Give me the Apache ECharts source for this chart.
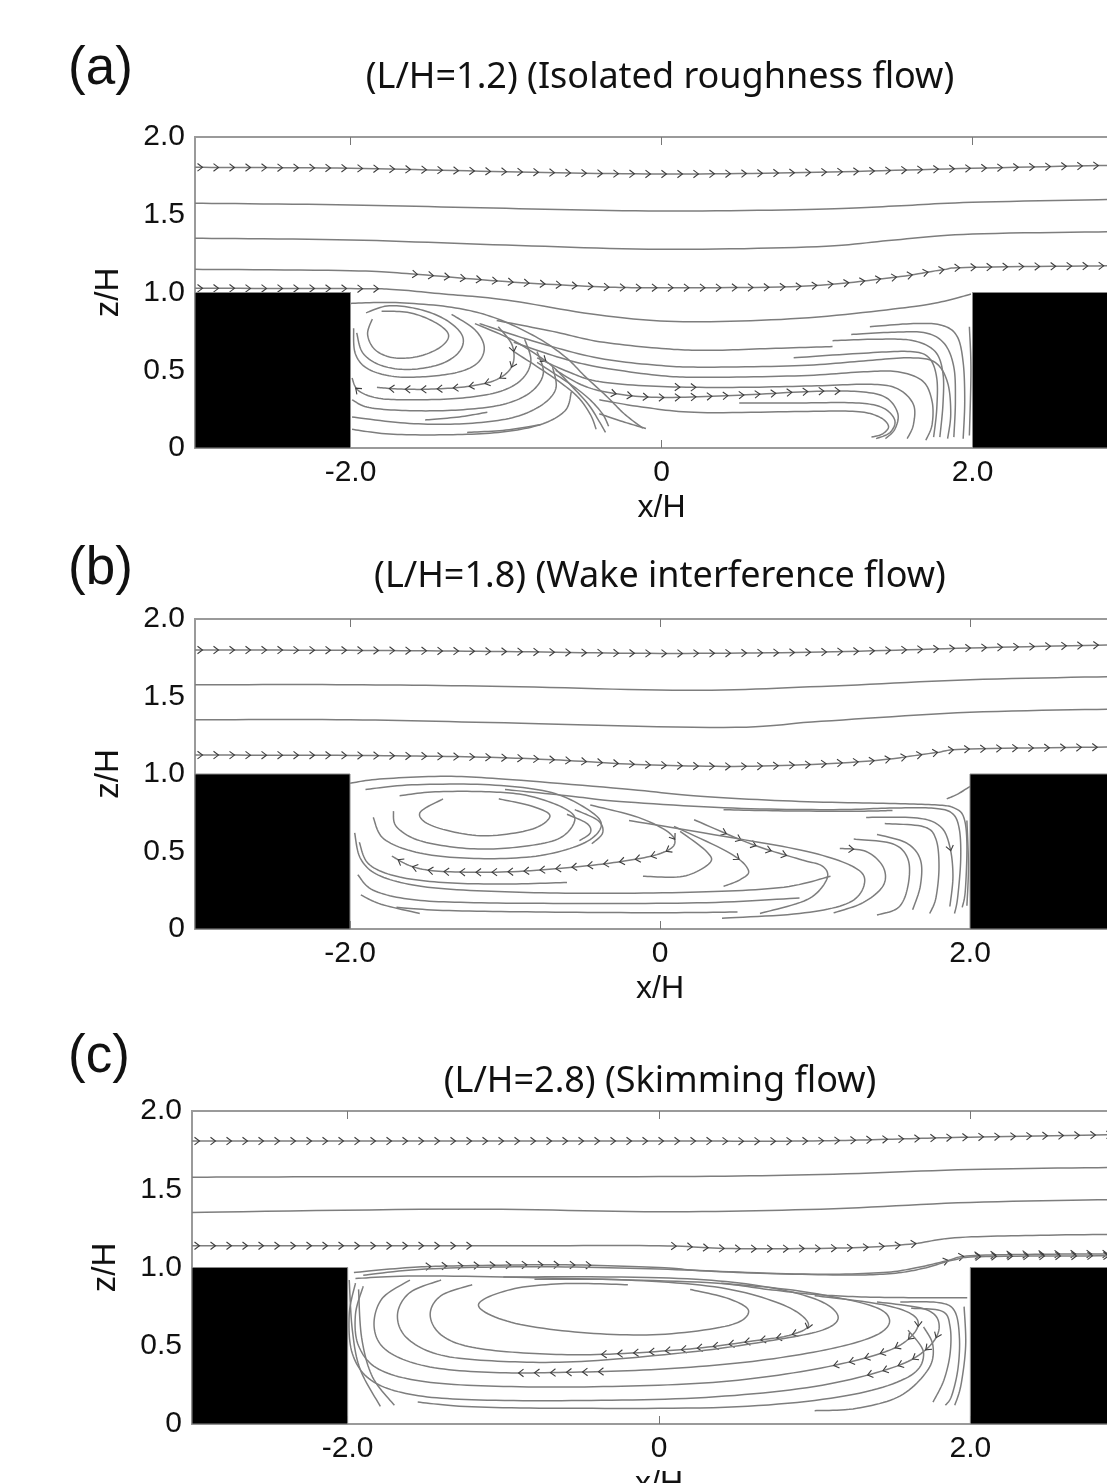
<!DOCTYPE html>
<html><head><meta charset="utf-8">
<script src="https://cdn.jsdelivr.net/npm/echarts@6/dist/echarts.min.js"></script>
<style>html,body{margin:0;padding:0;background:#fff}#c{width:1107px;height:1483px}</style>
</head><body><div id="c"></div>
<script>
// ---------------- data ----------------
const panelLabels = ['(a)', '(b)', '(c)'];
const panelTitles = ['(L/H=1.2) (Isolated roughness flow)', '(L/H=1.8) (Wake interference flow)', '(L/H=2.8) (Skimming flow)'];
const xTicks = [-2, 0, 2];
const yTicks = [0, 0.5, 1.0, 1.5, 2.0];
const xRange = [-3, 3];
const yRange = [0, 2];
const blocks = [[-3, -2, 1.0], [2, 3, 1.0]]; // [x0, x1, height]

// streamlines, panel (a)
const linesA = [
  [[-3,1.805],[-2,1.799],[-1,1.777],[0,1.762],[1,1.773],[2,1.799],[3,1.82]],
  [[-3,1.574],[-2,1.563],[-1,1.541],[0,1.524],[1,1.535],[1.5,1.556],[2,1.58],[3,1.6]],
  [[-3,1.349],[-2,1.338],[-1,1.305],[0,1.278],[1,1.295],[1.5,1.338],[2,1.376],[3,1.392]],
  [[-3,1.149],[-2,1.14],[-1.6,1.119],[-1,1.07],[-0.4,1.037],[0,1.031],[0.9,1.04],[1.5,1.098],[1.8,1.145],[2,1.162],[3,1.173]],
  [[-3,1.027],[-2,1.025],[-1.73,1.02],[-1.4,0.99],[-1,0.952],[-0.4,0.855],[0.14,0.812],[0.89,0.834],[1.53,0.898],[1.8,0.94],[1.99,0.99]],
  [[-1.80,0.88],[-1.62,0.87],[-1.46,0.81],[-1.37,0.73],[-1.42,0.65],[-1.56,0.59],[-1.72,0.58],[-1.84,0.63],[-1.89,0.73],[-1.86,0.83]],
  [[-1.90,0.87],[-1.75,0.915],[-1.55,0.89],[-1.38,0.82],[-1.28,0.72],[-1.30,0.62],[-1.42,0.54],[-1.62,0.505],[-1.80,0.53],[-1.92,0.61],[-1.96,0.74]],
  [[-1.35,0.86],[-1.20,0.76],[-1.14,0.65],[-1.18,0.55],[-1.30,0.49],[-1.50,0.46],[-1.72,0.46],[-1.89,0.51],[-1.97,0.61],[-1.98,0.77]],
  [[-1.05,0.78],[-0.96,0.66],[-0.96,0.53],[-1.06,0.44],[-1.25,0.395],[-1.50,0.378],[-1.70,0.38],[-1.83,0.39]],
  [[-0.88,0.70],[-0.84,0.56],[-0.90,0.44],[-1.05,0.36],[-1.30,0.32],[-1.60,0.31],[-1.82,0.32],[-1.95,0.37],[-1.99,0.45]],
  [[-0.80,0.62],[-0.76,0.48],[-0.84,0.36],[-1.02,0.28],[-1.30,0.245],[-1.62,0.24],[-1.88,0.26],[-1.99,0.31]],
  [[-0.70,0.52],[-0.68,0.38],[-0.78,0.27],[-0.98,0.19],[-1.30,0.155],[-1.65,0.16],[-1.99,0.20]],
  [[-0.58,0.36],[-0.62,0.24],[-0.78,0.15],[-1.05,0.10],[-1.4,0.085],[-1.75,0.09],[-1.99,0.12]],
  [[-1.52,0.18],[-1.3,0.2],[-1.12,0.23]],
  [[-1.25,0.10],[-1.0,0.115],[-0.78,0.15]],
  [[-2.0,0.93],[-1.71,0.935],[-1.35,0.905],[-1.08,0.84],[-0.81,0.716],[-0.62,0.587],[-0.49,0.459],[-0.35,0.33],[-0.24,0.22],[-0.12,0.127]],
  [[-1.2,0.80],[-0.95,0.69],[-0.72,0.54],[-0.58,0.40],[-0.47,0.28],[-0.40,0.17],[-0.36,0.10]],
  [[-0.95,0.62],[-0.72,0.47],[-0.55,0.34],[-0.46,0.22],[-0.42,0.12]],
  [[-0.80,0.55],[-0.6,0.42],[-0.47,0.32],[-0.38,0.22],[-0.34,0.14]],
  [[-1.06,0.82],[-0.7,0.75],[-0.4,0.684],[0,0.64],[0.3,0.628],[0.7,0.64],[1.1,0.652]],
  [[-1.17,0.80],[-0.8,0.68],[-0.4,0.577],[0,0.53],[0.3,0.52],[0.9,0.53],[1.3,0.56],[1.6,0.58],[1.76,0.55],[1.84,0.42],[1.86,0.22],[1.84,0.06]],
  [[-0.95,0.68],[-0.65,0.58],[-0.4,0.52],[0,0.465],[0.3,0.455],[0.9,0.465],[1.3,0.49],[1.52,0.49],[1.68,0.43],[1.74,0.3],[1.74,0.15],[1.7,0.05]],
  [[-0.80,0.58],[-0.6,0.49],[-0.4,0.427],[0,0.395],[0.5,0.39],[1.0,0.40],[1.35,0.41],[1.52,0.38],[1.62,0.28],[1.62,0.15],[1.58,0.06]],
  [[-0.68,0.50],[-0.5,0.40],[-0.3,0.35],[0,0.325],[0.5,0.34],[1.0,0.365],[1.3,0.36],[1.45,0.32],[1.52,0.22],[1.50,0.12],[1.44,0.06]],
  [[-0.4,0.31],[-0.1,0.26],[0.25,0.228],[0.9,0.235],[1.25,0.235],[1.4,0.2],[1.46,0.14],[1.42,0.09],[1.35,0.07]],
  [[-0.4,0.22],[-0.25,0.17],[-0.1,0.125]],
  [[0.5,0.29],[0.9,0.29],[1.25,0.29],[1.42,0.26],[1.5,0.18],[1.47,0.1],[1.38,0.06]],
  [[1.34,0.78],[1.62,0.80],[1.80,0.79],[1.90,0.72],[1.94,0.55],[1.95,0.3],[1.94,0.06]],
  [[1.22,0.73],[1.5,0.745],[1.70,0.74],[1.82,0.67],[1.88,0.52],[1.89,0.3],[1.88,0.07]],
  [[1.1,0.69],[1.4,0.70],[1.62,0.69],[1.76,0.62],[1.81,0.48],[1.81,0.28],[1.79,0.07]],
  [[0.85,0.58],[1.3,0.61],[1.6,0.62],[1.72,0.58],[1.77,0.45],[1.77,0.25],[1.75,0.07]],
  [[1.98,0.78],[1.99,0.5],[1.98,0.08]]
];
// arrow marks: [line index, from fraction, to fraction] along the line
const arrowsA = [[0,0,1],[3,0.23,1],[4,0,0.25],[8,0.12,1],[22,0.33,0.4],[23,0.15,0.78],[9,0.92,0.97],[16,0.42,0.5]];

// streamlines, panel (b)
const linesB = [
  [[-3,1.80],[-2,1.798],[-1,1.79],[0,1.778],[1.04,1.787],[2,1.813],[3,1.835]],
  [[-3,1.576],[-2,1.576],[-1,1.565],[0.17,1.54],[1.04,1.565],[2,1.608],[3,1.63]],
  [[-3,1.35],[-2,1.35],[-1,1.33],[0.41,1.30],[1.04,1.34],[2,1.398],[3,1.42]],
  [[-3,1.122],[-2,1.12],[-1.2,1.11],[-0.69,1.092],[-0.1,1.06],[0.6,1.05],[1.33,1.082],[1.76,1.135],[2,1.161],[3,1.175]],
  [[-2.0,0.94],[-1.81,0.967],[-1.38,0.985],[-0.95,0.963],[-0.19,0.90],[0.26,0.856],[0.9,0.823],[1.48,0.81],[1.79,0.80],[1.9,0.78],[1.96,0.72],[1.98,0.55],[1.97,0.25],[1.95,0.14]],
  [[-1.0,0.90],[-0.6,0.86],[-0.26,0.823],[0.47,0.78],[1.12,0.77],[1.48,0.78],[1.75,0.78],[1.88,0.75],[1.93,0.65],[1.94,0.45],[1.92,0.2],[1.9,0.1]],
  [[0.41,0.77],[0.8,0.762],[1.29,0.76],[1.5,0.765]],
  [[1.85,0.84],[1.92,0.87],[2.0,0.92]],
  [[-1.04,0.84],[-0.82,0.79],[-0.71,0.727],[-0.84,0.64],[-1.16,0.602],[-1.46,0.662],[-1.55,0.748],[-1.40,0.839]],
  [[-1.68,0.86],[-1.45,0.885],[-1.1,0.885],[-0.85,0.86],[-0.62,0.78],[-0.55,0.70],[-0.66,0.58],[-0.95,0.525],[-1.25,0.52],[-1.55,0.57],[-1.70,0.66],[-1.72,0.76]],
  [[-1.9,0.90],[-1.6,0.93],[-1.1,0.93],[-0.7,0.88],[-0.45,0.76],[-0.38,0.66],[-0.5,0.55],[-0.8,0.47],[-1.2,0.455],[-1.55,0.49],[-1.78,0.58],[-1.85,0.72]],
  [[-0.45,0.80],[-0.14,0.72],[0.06,0.62],[0.09,0.54],[-0.02,0.48],[-0.24,0.437],[-0.5,0.405],[-0.95,0.37],[-1.38,0.37],[-1.59,0.40],[-1.73,0.47]],
  [[-0.6,0.74],[-0.47,0.68],[-0.45,0.62],[-0.52,0.57]],
  [[-0.55,0.77],[-0.40,0.70],[-0.37,0.62],[-0.44,0.55]],
  [[1.1,0.34],[0.8,0.27],[0.3,0.24],[-0.4,0.23],[-1.0,0.24],[-1.5,0.27],[-1.8,0.34],[-1.93,0.45],[-1.97,0.62]],
  [[0.9,0.2],[0.3,0.17],[-0.5,0.165],[-1.2,0.17],[-1.6,0.19],[-1.85,0.25],[-1.95,0.35]],
  [[0.5,0.11],[0,0.105],[-0.8,0.11],[-1.4,0.12],[-1.7,0.14]],
  [[-1.55,0.10],[-1.8,0.16],[-1.93,0.22]],
  [[-0.6,0.30],[-1.0,0.29],[-1.4,0.30],[-1.7,0.34],[-1.88,0.42],[-1.94,0.56]],
  [[0.22,0.705],[0.6,0.544],[0.9,0.45],[1.05,0.404],[1.075,0.318],[0.95,0.19],[0.645,0.10]],
  [[0.09,0.662],[0.45,0.49],[0.57,0.38],[0.52,0.32],[0.41,0.275]],
  [[0.13,0.63],[0.30,0.50],[0.32,0.425],[0.15,0.34],[-0.11,0.34]],
  [[1.16,0.52],[1.33,0.50],[1.44,0.40],[1.44,0.28],[1.31,0.17],[1.12,0.104]],
  [[-0.2,0.70],[0.4,0.60],[0.95,0.50],[1.25,0.40],[1.32,0.30],[1.22,0.17],[0.9,0.10],[0.4,0.07]],
  [[1.33,0.72],[1.66,0.716],[1.81,0.66],[1.87,0.53],[1.89,0.34],[1.87,0.145]],
  [[1.40,0.61],[1.59,0.555],[1.68,0.447],[1.68,0.28],[1.63,0.124]],
  [[1.45,0.68],[1.70,0.66],[1.78,0.58],[1.80,0.40],[1.78,0.2],[1.74,0.10]],
  [[1.25,0.58],[1.5,0.55],[1.6,0.45],[1.6,0.28],[1.54,0.14],[1.4,0.09]],
  [[1.98,0.70],[1.99,0.4],[1.98,0.15]]
];
const arrowsB = [[0,0,1],[3,0,1],[11,0.22,1],[19,0.12,0.45],[20,0.55,0.7],[22,0.05,0.2],[24,0.6,0.66],[25,0.55,0.62],[26,0.55,0.6]];

// streamlines, panel (c)
const linesC = [
  [[-3,1.808],[-2,1.808],[0,1.808],[0.93,1.808],[1.5,1.82],[2,1.833],[3,1.85]],
  [[-3,1.577],[-2,1.58],[0,1.581],[1.04,1.594],[2,1.626],[3,1.64]],
  [[-3,1.352],[-1.25,1.373],[0,1.356],[1.04,1.373],[2,1.416],[3,1.435]],
  [[-3,1.139],[-1,1.139],[0,1.139],[0.47,1.121],[1.2,1.125],[1.61,1.149],[1.9,1.19],[2.4,1.205],[3,1.213]],
  [[-1.96,0.968],[-1.6,1.0],[-1.28,1.011],[-0.6,1.017],[0,1.0],[0.3,0.979],[0.98,0.957],[1.44,0.968],[1.66,1.0],[1.85,1.043],[2.0,1.075],[2.5,1.085],[3,1.087]],
  [[-1.9,0.95],[-1.5,0.99],[-0.8,1.005],[0,0.99],[0.6,0.965],[1.2,0.952],[1.5,0.962],[1.7,0.995],[1.9,1.05],[2.1,1.07],[3,1.075]],
  [[-1.95,0.93],[-1.51,0.946],[-0.6,0.93],[0.304,0.904],[0.7,0.86],[0.983,0.829],[1.3,0.812],[1.66,0.807],[1.98,0.807]],
  [[0.2,0.86],[0.45,0.80],[0.576,0.72],[0.45,0.63],[0.0,0.572],[-0.5,0.585],[-0.95,0.65],[-1.16,0.76],[-0.95,0.86],[-0.6,0.897],[-0.2,0.89]],
  [[-0.8,0.925],[-0.2,0.92],[0.4,0.87],[0.8,0.76],[0.96,0.64],[0.85,0.57],[0.6,0.53],[0.2,0.48],[-0.36,0.445],[-0.8,0.45],[-1.2,0.49],[-1.4,0.57],[-1.47,0.70],[-1.4,0.82],[-1.2,0.89]],
  [[-1.0,0.94],[0.0,0.935],[0.6,0.89],[1.0,0.8],[1.15,0.69],[1.05,0.6],[0.7,0.53],[0.2,0.46],[-0.5,0.40],[-1.0,0.40],[-1.4,0.44],[-1.62,0.55],[-1.68,0.70],[-1.6,0.84],[-1.4,0.92]],
  [[0.4,0.90],[0.9,0.85],[1.35,0.76],[1.48,0.67],[1.40,0.57],[1.1,0.48],[0.6,0.40],[0.0,0.35],[-0.6,0.33],[-1.1,0.33],[-1.5,0.37],[-1.75,0.47],[-1.83,0.62],[-1.78,0.80],[-1.6,0.92]],
  [[1.0,0.82],[1.45,0.76],[1.65,0.68],[1.63,0.57],[1.45,0.46],[1.0,0.35],[0.4,0.27],[-0.3,0.24],[-1.0,0.24],[-1.5,0.27],[-1.8,0.35],[-1.93,0.5],[-1.95,0.7],[-1.9,0.88]],
  [[1.4,0.78],[1.72,0.73],[1.8,0.62],[1.72,0.48],[1.5,0.36],[1.0,0.24],[0.3,0.17],[-0.5,0.15],[-1.2,0.155],[-1.6,0.19],[-1.85,0.28],[-1.97,0.45],[-1.99,0.7],[-1.95,0.9]],
  [[1.6,0.6],[1.7,0.45],[1.6,0.3],[1.2,0.18],[0.5,0.11],[-0.5,0.10],[-1.2,0.11],[-1.55,0.14]],
  [[-1.99,0.92],[-1.97,0.6],[-1.92,0.35],[-1.79,0.113]],
  [[-1.93,0.86],[-1.91,0.55],[-1.84,0.3],[-1.7,0.12]],
  [[1.55,0.78],[1.8,0.775],[1.9,0.72],[1.93,0.55],[1.92,0.35],[1.88,0.18],[1.84,0.12]],
  [[1.62,0.74],[1.82,0.72],[1.87,0.62],[1.87,0.45],[1.83,0.28],[1.76,0.14]],
  [[1.96,0.75],[1.97,0.5],[1.94,0.25],[1.9,0.12]],
  [[1.7,0.62],[1.76,0.5],[1.73,0.35],[1.55,0.18],[1.27,0.10],[1.0,0.085]]
];
const arrowsC = [[0,0,1],[3,0,0.3],[3,0.51,0.78],[4,0.09,0.31],[4,0.76,1],[5,0.8,1],[8,0.38,0.68],[10,0.6,0.72],[11,0.14,0.28],[12,0.1,0.22]];

const panelLines = [linesA, linesB, linesC];
const panelArrows = [arrowsA, arrowsB, arrowsC];

// ---------------- layout & style ----------------
const grids = [
  {left: 195, top: 137, width: 933, height: 311},
  {left: 195, top: 619, width: 930, height: 310},
  {left: 192, top: 1111, width: 934, height: 313}
];
const labelY = [73, 573, 1061];
const titleY = [78, 577, 1082];
const LINE_COLOR = '#7d7d7d';
const ARROW_COLOR = '#3c3c3c';
const ARROW_GAP = 16;
const TICK_FONT = {fontFamily: 'Liberation Sans, Arial, sans-serif', fontSize: 30, color: '#111'};

function spline(pts, seg) {
  const n = pts.length;
  if (n < 3) return pts.slice();
  const out = [];
  for (let i = 0; i < n - 1; i++) {
    const p0 = pts[Math.max(i - 1, 0)], p1 = pts[i], p2 = pts[i + 1], p3 = pts[Math.min(i + 2, n - 1)];
    for (let s = 0; s < seg; s++) {
      const t = s / seg, t2 = t * t, t3 = t2 * t;
      const f = (a, b, c, d) => 0.5 * ((2 * b) + (-a + c) * t + (2 * a - 5 * b + 4 * c - d) * t2 + (-a + 3 * b - 3 * c + d) * t3);
      out.push([f(p0[0], p1[0], p2[0], p3[0]), f(p0[1], p1[1], p2[1], p3[1])]);
    }
  }
  out.push(pts[n - 1]);
  return out;
}

function lineRenderer(lines, arrows) {
  return function (params, api) {
    const idx = api.value(0);
    const pts = spline(lines[idx].map(p => api.coord(p)), 12);
    const children = [{
      type: 'polyline', shape: {points: pts},
      style: {stroke: LINE_COLOR, lineWidth: 1.5, fill: 'none'}
    }];
    const specs = arrows.filter(a => a[0] === idx);
    if (specs.length) {
      const cum = [0];
      for (let i = 1; i < pts.length; i++) {
        cum.push(cum[i - 1] + Math.hypot(pts[i][0] - pts[i - 1][0], pts[i][1] - pts[i - 1][1]));
      }
      const total = cum[cum.length - 1];
      specs.forEach(sp => {
        let j = 1;
        for (let s = sp[1] * total + 5; s <= sp[2] * total - 3; s += ARROW_GAP) {
          while (j < pts.length - 1 && cum[j] < s) j++;
          const a = pts[j - 1], b = pts[j];
          const segLen = cum[j] - cum[j - 1] || 1;
          const t = (s - cum[j - 1]) / segLen;
          const p = [a[0] + (b[0] - a[0]) * t, a[1] + (b[1] - a[1]) * t];
          const dx = (b[0] - a[0]) / segLen, dy = (b[1] - a[1]) / segLen;
          const nx = -dy, ny = dx;
          const tip = [p[0] + dx * 2.5, p[1] + dy * 2.5];
          const b1 = [p[0] - dx * 2.5 + nx * 3.8, p[1] - dy * 2.5 + ny * 3.8];
          const b2 = [p[0] - dx * 2.5 - nx * 3.8, p[1] - dy * 2.5 - ny * 3.8];
          children.push({
            type: 'polyline', shape: {points: [b1, tip, b2]},
            style: {stroke: ARROW_COLOR, lineWidth: 1.1, fill: 'none'}
          });
        }
      });
    }
    return {type: 'group', children: children};
  };
}

function blockRenderer(params, api) {
  const p0 = api.coord([api.value(0), api.value(2)]);
  const p1 = api.coord([api.value(1), 0]);
  return {
    type: 'rect',
    shape: {x: p0[0], y: p0[1], width: p1[0] - p0[0], height: p1[1] - p0[1]},
    style: {fill: '#000', stroke: '#8a8a8a', lineWidth: 1}
  };
}

const xFmt = v => (v === 0 ? '0' : v.toFixed(1));
const yFmt = v => (v === 0 ? '0' : v.toFixed(1));

const option = {
  animation: false,
  backgroundColor: '#fff',
  grid: grids.map(g => Object.assign({show: true, borderColor: '#9a9a9a', borderWidth: 2, backgroundColor: 'transparent', containLabel: false, outerBoundsMode: 'none'}, g)),
  xAxis: [],
  yAxis: [],
  series: [],
  graphic: []
};

for (let i = 0; i < 3; i++) {
  option.xAxis.push({
    type: 'value', gridIndex: i, min: xRange[0], max: xRange[1], position: 'bottom',
    axisLine: {show: false}, splitLine: {show: false},
    axisTick: {show: true, inside: true, length: 8, customValues: xTicks, lineStyle: {color: '#777', width: 1}},
    axisLabel: Object.assign({customValues: xTicks, formatter: xFmt, margin: 10}, TICK_FONT),
    name: 'x/H', nameLocation: 'middle', nameGap: 44,
    nameTextStyle: {fontFamily: 'Liberation Sans, Arial, sans-serif', fontSize: 32, color: '#111'}
  });
  option.xAxis.push({
    type: 'value', gridIndex: i, min: xRange[0], max: xRange[1], position: 'top',
    axisLine: {show: false}, splitLine: {show: false},
    axisTick: {show: true, inside: true, length: 8, customValues: xTicks, lineStyle: {color: '#777', width: 1}},
    axisLabel: {show: false}
  });
  option.yAxis.push({
    type: 'value', gridIndex: i, min: yRange[0], max: yRange[1], interval: 0.5,
    axisLine: {show: false}, splitLine: {show: false}, axisTick: {show: false},
    axisLabel: Object.assign({customValues: yTicks, formatter: yFmt, margin: 10}, TICK_FONT),
    name: 'z/H', nameLocation: 'middle', nameRotate: 90, nameGap: 70,
    nameTextStyle: {fontFamily: 'Liberation Sans, Arial, sans-serif', fontSize: 33, color: '#111'}
  });
  const lines = panelLines[i];
  option.series.push({
    type: 'custom', xAxisIndex: 2 * i, yAxisIndex: i, silent: true, z: 2,
    renderItem: lineRenderer(lines, panelArrows[i]),
    data: lines.map((_, k) => [k, 0])
  });
  option.series.push({
    type: 'custom', xAxisIndex: 2 * i, yAxisIndex: i, silent: true, z: 3,
    renderItem: blockRenderer,
    data: blocks
  });
  option.graphic.push({
    type: 'text', left: 68, top: labelY[i] - 30,
    style: {text: panelLabels[i], fontFamily: 'Liberation Sans, Arial, sans-serif', fontSize: 53, fill: '#111'}
  });
  option.graphic.push({
    type: 'text', x: 660, y: titleY[i],
    style: {text: panelTitles[i], fontFamily: 'Noto Sans, sans-serif', fontSize: 36, fill: '#111', align: 'center', verticalAlign: 'middle'}
  });
}

const chart = echarts.init(document.getElementById('c'), null, {renderer: 'canvas'});
chart.setOption(option);
</script>
</body></html>
